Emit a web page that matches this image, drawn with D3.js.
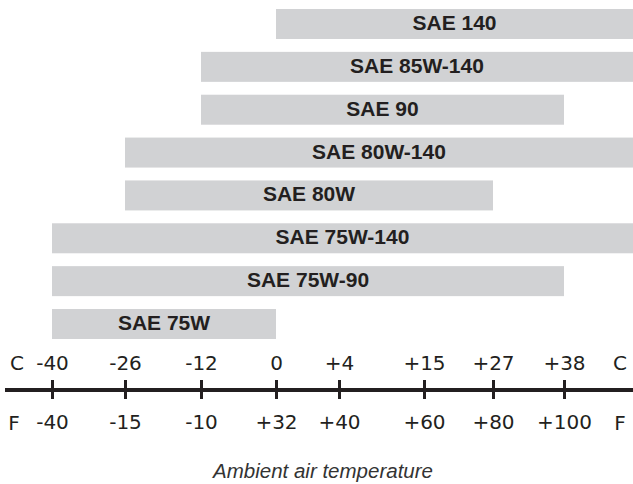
<!DOCTYPE html>
<html>
<head>
<meta charset="utf-8">
<script src="https://cdn.jsdelivr.net/npm/d3@7"></script>
<style>
  body { margin: 0; background: #fff; }
  svg { display: block; }
</style>
</head>
<body>
<div id="chart"></div>
<script>
// gear oil grades and their ambient temperature ranges (deg C), null = open ended
const grades = ["SAE 140", "SAE 85W-140", "SAE 90", "SAE 80W-140", "SAE 80W", "SAE 75W-140", "SAE 75W-90", "SAE 75W"];
const minC = [0, -12, -12, -26, -26, -40, -40, -40];
const maxC = [null, null, 38, null, 27, null, 38, 0];

// axis ticks
const celsiusTicks = [-40, -26, -12, 0, 4, 15, 27, 38];
const celsiusLabels = ["-40", "-26", "-12", "0", "+4", "+15", "+27", "+38"];
const fahrenheitLabels = ["-40", "-15", "-10", "+32", "+40", "+60", "+80", "+100"];

let width = 633,
    height = 484;

const ink = "#231f20";

const svg = d3.select("#chart")
  .append("svg")
  .attr("width", width)
  .attr("height", height);

// the scale in the original is schematic, not linear: piecewise mapping
let x = d3.scaleLinear()
  .domain(celsiusTicks)
  .range([52, 125, 201, 276, 339, 424, 493, 564]);

let y = d3.scaleBand()
  .domain(grades)
  .range([9, 339])
  .paddingInner(0.3)
  .paddingOuter(0);

const rows = grades.map((g, i) => ({ name: g, lo: minC[i], hi: maxC[i] }));
const x1 = d => d.hi === null ? width : x(d.hi);

svg.append("g")
  .selectAll("rect")
  .data(rows)
  .join("rect")
  .attr("x", d => x(d.lo))
  .attr("y", d => y(d.name))
  .attr("width", d => x1(d) - x(d.lo))
  .attr("height", y.bandwidth())
  .attr("fill", "#d1d2d4");

svg.append("g")
  .selectAll("text")
  .data(rows)
  .join("text")
  .attr("x", d => (x(d.lo) + x1(d)) / 2)
  .attr("y", d => y(d.name) + y.bandwidth() / 2 + 6)
  .attr("text-anchor", "middle")
  .attr("font-family", "'Liberation Sans', Arial, sans-serif")
  .attr("font-weight", "bold")
  .attr("font-size", 21)
  .attr("fill", ink)
  .text(d => d.name);

// axis
const axisY = 390;

svg.append("line")
  .attr("x1", 5)
  .attr("x2", width)
  .attr("y1", axisY)
  .attr("y2", axisY)
  .attr("stroke", ink)
  .attr("stroke-width", 4);

const axisC = svg.append("g")
  .attr("transform", `translate(0,${axisY})`)
  .call(d3.axisTop(x).tickValues(celsiusTicks)
    .tickFormat((d, i) => celsiusLabels[i]).tickSize(10).tickPadding(10));

const axisF = svg.append("g")
  .attr("transform", `translate(0,${axisY})`)
  .call(d3.axisBottom(x).tickValues(celsiusTicks)
    .tickFormat((d, i) => fahrenheitLabels[i]).tickSize(9).tickPadding(16));

for (let g of [axisC, axisF]) {
  g.select(".domain").remove();
  g.selectAll("line").attr("stroke", ink).attr("stroke-width", 3);
  g.selectAll("text")
    .attr("fill", ink)
    .attr("font-family", "'DejaVu Sans', sans-serif")
    .attr("font-size", 20);
}

// unit labels
const unit = (txt, cx, cy) => svg.append("text")
  .attr("x", cx).attr("y", cy)
  .attr("text-anchor", "middle")
  .attr("font-family", "'DejaVu Sans', sans-serif")
  .attr("font-size", 20)
  .attr("fill", ink)
  .text(txt);

unit("C", 17, 370);
unit("F", 14, 430);
unit("C", 620, 370);
unit("F", 620, 430);

svg.append("text")
  .attr("x", 323)
  .attr("y", 478)
  .attr("text-anchor", "middle")
  .attr("font-family", "'Liberation Sans', Arial, sans-serif")
  .attr("font-style", "italic")
  .attr("font-size", 20.5)
  .attr("fill", "#333")
  .text("Ambient air temperature");
</script>
</body>
</html>
